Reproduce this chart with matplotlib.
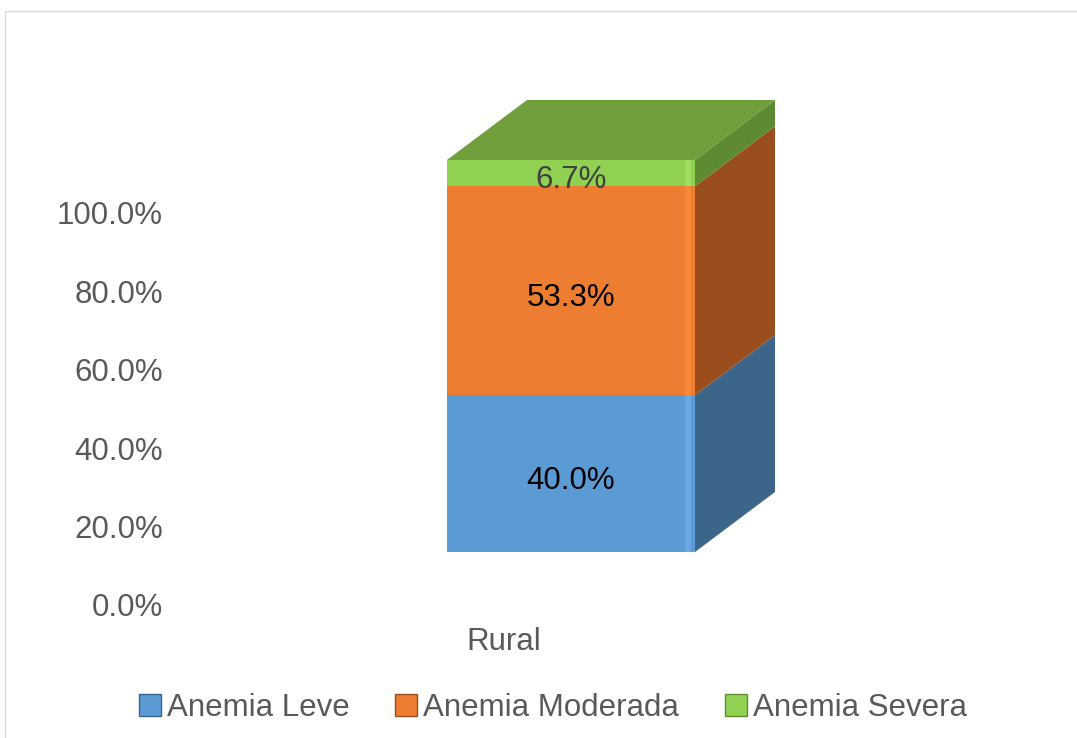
import matplotlib.pyplot as plt
from matplotlib.patches import Polygon, Patch, Rectangle

plt.rcParams['font.family'] = ['Liberation Sans', 'DejaVu Sans']

# datos
categorias = ["Rural"]
series = ["Anemia Leve", "Anemia Moderada", "Anemia Severa"]
valores = [40.0, 53.3, 6.7]
ticks = [0, 20, 40, 60, 80, 100]

frente = ["#5B9BD5", "#ED7D31", "#8FD150"]
brillo = ["#68A8E2", "#F68935", "#A0DD60"]
lateral = ["#3B6589", "#9A4E1E", "#5E8B31"]
topo = "#6F9E3B"
etiqueta_color = ["#000000", "#000000", "#404040"]

W, H = 1077, 738
fig = plt.figure(figsize=(W / 100, H / 100), dpi=100)
ax = fig.add_axes([170 / W, (H - 605) / H, 668 / W, 392 / H])
ax.set_xlim(-1, 1)
ax.set_ylim(0, 100)

# pixel -> data units
kx = 2 / 668
ky = 100 / 392

# 3D projection in pixels
shift_x = 67 * kx      # front face relative to category position
lift = 53 * ky         # front face lifted above the axis floor
dx, dy = 80 * kx, 60 * ky
ancho = 248 * kx

x0 = 0 + shift_x
xl, xr = x0 - ancho / 2, x0 + ancho / 2

base = 0
for i, v in enumerate(valores):
    yb = base + lift
    yt = base + v + lift
    side = Polygon([(xr, yb), (xr + dx, yb + dy), (xr + dx, yt + dy), (xr, yt)],
                   closed=True, facecolor=lateral[i], edgecolor='none', clip_on=False, zorder=2)
    ax.add_patch(side)
    if i == len(valores) - 1:
        top = Polygon([(xl, yt), (xl + dx, yt + dy), (xr + dx, yt + dy), (xr, yt)],
                      closed=True, facecolor=topo, edgecolor='none', clip_on=False, zorder=2)
        ax.add_patch(top)
    ax.bar(x0, v, width=ancho, bottom=yb, color=frente[i], clip_on=False, zorder=3)
    # bevel highlight near the right edge
    ax.add_patch(Rectangle((xr - 10 * kx, yb), 6 * kx, v, facecolor=brillo[i],
                           edgecolor='none', clip_on=False, zorder=3.5))
    ax.text(x0, yb + v / 2 - 7 * ky, f"{v:.1f}%", ha='center', va='center', fontsize=22.5,
            color=etiqueta_color[i], zorder=4)
    base += v

ax.set_yticks(ticks)
ax.set_yticklabels([f"{t:.1f}%" for t in ticks])
ax.set_xticks([0])
ax.set_xticklabels(categorias)
ax.tick_params(axis='y', length=0, pad=5, labelsize=22.5, labelcolor='#595959')
ax.tick_params(axis='x', length=0, pad=16, labelsize=22.5, labelcolor='#595959')
for s in ax.spines.values():
    s.set_visible(False)
ax.patch.set_visible(False)

handles = [Patch(facecolor=frente[i], edgecolor=lateral[i], label=series[i]) for i in range(3)]
fig.legend(handles=handles, loc='center', bbox_to_anchor=(553 / W, 1 - 708 / H), ncol=3,
           frameon=False, fontsize=22.5, handlelength=0.7, handleheight=0.7,
           handletextpad=0.2, columnspacing=1.45, labelcolor='#595959')

fig.patches.append(Rectangle((5 / W, -0.05), 1.1, 1 - 11 / H + 0.05, transform=fig.transFigure,
                             fill=False, edgecolor='#D9D9D9', linewidth=1))

fig.savefig("out.png", dpi=100)
